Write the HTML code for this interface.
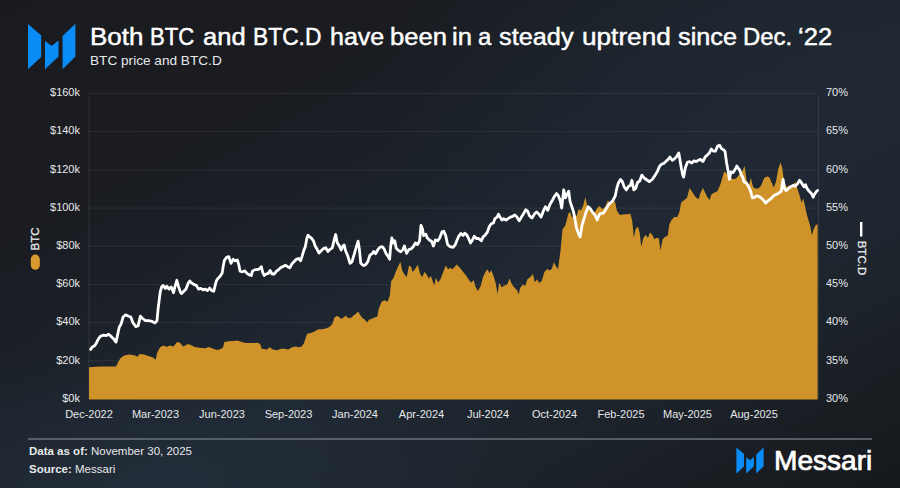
<!DOCTYPE html>
<html><head><meta charset="utf-8">
<style>
html,body{margin:0;padding:0;}
body{width:900px;height:488px;overflow:hidden;position:relative;
background:radial-gradient(ellipse 380px 260px at 760px 90px,rgba(32,42,53,0.55) 0%,rgba(32,42,53,0) 100%),radial-gradient(ellipse 360px 140px at 180px 488px,rgba(36,49,62,0.6) 0%,rgba(36,49,62,0) 100%),linear-gradient(to bottom right,#191b1f 0%,#1a1c21 25%,#1c222a 42%,#1f2833 57%,#1c2229 80%,#16181b 100%);
font-family:"Liberation Sans",sans-serif;color:#fff;}
svg{position:absolute;left:0;top:0;}
.t{position:absolute;white-space:nowrap;}
</style></head><body>
<svg width="900" height="488" viewBox="0 0 900 488">
<g fill="#0a8cf6"><polygon points="28,24 41.2,35.5 41.2,57 28,69.3"/>
<polygon points="45,41 51.7,46 58.5,40.5 58.5,56.5 45,69.3"/>
<polygon points="62.6,36 75.4,23.8 75.4,56.5 62.6,69.3"/></g>
<g stroke="rgba(255,255,255,0.075)" stroke-width="1" fill="none"><line x1="88" y1="360.8" x2="818" y2="360.8"/><line x1="88" y1="322.6" x2="818" y2="322.6"/><line x1="88" y1="284.4" x2="818" y2="284.4"/><line x1="88" y1="246.2" x2="818" y2="246.2"/><line x1="88" y1="208.1" x2="818" y2="208.1"/><line x1="88" y1="169.9" x2="818" y2="169.9"/><line x1="88" y1="131.7" x2="818" y2="131.7"/><line x1="88" y1="93.5" x2="818" y2="93.5"/></g>
<g stroke="rgba(255,255,255,0.09)" stroke-width="1"><line x1="89" y1="96" x2="89" y2="399"/><line x1="818.5" y1="96" x2="818.5" y2="399"/></g>
<path d="M89,399.6 L89.0,367.2 99.8,366.4 116.0,366.4 118.2,362.0 120.4,358.3 124.1,355.4 129.3,354.6 135.2,355.4 137.4,356.8 139.6,353.9 144.0,354.6 148.5,356.1 152.9,357.6 155.6,359.8 157.3,352.4 160.2,347.1 163.9,345.6 166.8,347.1 169.8,345.6 173.5,346.4 177.1,341.9 180.1,342.7 183.0,346.4 185.3,345.6 188.2,344.1 191.9,345.6 194.9,347.1 199.3,347.8 205.2,348.3 208.9,347.1 212.6,348.6 217.0,350.0 220.0,349.3 222.9,347.8 224.4,341.9 228.8,341.2 233.0,341.0 237.4,340.6 241.8,342.1 246.2,343.1 252.1,343.1 258.0,342.8 260.3,344.3 261.7,348.7 266.9,349.4 269.6,347.2 272.8,349.4 277.2,350.2 280.9,348.7 284.6,348.7 288.3,349.4 292.0,347.2 295.7,346.5 298.6,347.2 301.6,346.5 303.8,343.5 307.2,333.7 310.9,332.9 314.6,331.4 318.3,329.2 322.0,329.2 325.7,328.5 329.4,327.0 332.3,324.1 334.5,317.4 336.7,315.9 339.0,316.7 341.2,318.9 343.4,317.4 345.6,315.7 348.5,318.2 351.5,317.4 353.7,315.2 355.9,313.7 358.1,311.5 360.4,315.2 362.6,318.2 364.8,319.6 367.0,322.6 369.2,319.6 371.4,318.9 374.4,317.4 377.3,316.7 378.7,309.0 381.6,301.7 384.6,300.2 387.5,301.7 389.8,295.8 391.2,281.0 393.5,278.0 395.7,272.1 397.9,267.0 400.4,261.8 402.3,270.7 404.5,274.4 406.7,277.3 409.0,265.5 411.2,267.0 412.6,272.1 414.9,269.2 417.8,264.8 420.0,273.6 422.2,277.3 424.4,272.1 426.7,274.4 428.9,278.8 430.8,275.8 432.9,281.7 434.3,285.4 435.8,278.0 438.2,282.5 440.7,278.8 443.2,272.1 445.8,265.5 448.1,269.2 450.3,267.7 452.5,269.2 456.8,264.4 459.4,267.3 462.4,271.0 466.1,275.4 469.0,279.9 471.2,282.8 473.5,279.9 475.7,287.2 477.9,290.9 480.8,285.8 483.0,276.9 486.0,271.0 487.8,269.5 489.2,273.2 491.2,270.3 493.4,275.4 495.6,282.8 497.5,293.9 499.3,282.8 501.5,287.2 504.4,285.8 507.4,284.3 509.6,278.4 511.8,284.3 514.8,288.0 517.0,290.2 518.8,294.6 520.0,288.1 523.0,284.4 525.2,285.9 527.4,279.3 530.3,277.1 533.0,274.1 534.8,282.2 537.0,279.3 539.2,283.0 541.8,280.8 544.4,271.9 547.3,269.0 549.5,270.4 551.7,269.0 553.9,262.3 556.2,266.7 558.1,269.0 559.6,257.1 560.6,249.8 562.5,229.6 565.4,225.2 568.4,213.4 570.1,211.9 572.1,217.8 574.3,213.4 576.5,216.3 578.7,209.0 580.9,210.4 583.1,206.0 585.4,197.1 586.8,204.5 589.0,207.5 592.0,209.7 594.9,211.9 597.2,208.2 599.4,206.0 602.3,209.0 605.3,206.7 608.0,200.2 610.2,203.9 613.1,198.7 615.3,203.1 616.8,210.5 619.8,214.9 624.2,214.2 628.0,214.2 630.2,213.5 632.1,220.1 633.9,237.8 635.6,229.0 638.0,226.7 639.8,233.4 641.2,246.7 643.4,237.8 645.7,234.9 647.9,237.8 650.1,232.6 652.3,234.9 654.5,239.3 656.7,237.8 659.0,238.5 660.4,250.4 662.6,239.3 664.9,237.1 667.8,235.6 669.3,224.5 671.5,220.1 674.4,217.1 677.4,217.1 679.6,211.2 681.1,202.4 684.0,200.2 687.0,198.0 689.6,188.1 692.5,192.6 695.5,197.0 698.5,199.2 700.7,192.6 702.9,188.1 705.1,192.6 707.3,197.0 709.5,199.9 711.7,194.0 714.7,192.6 717.6,191.1 720.6,183.7 722.8,176.3 724.3,171.2 726.5,173.4 728.7,176.3 730.9,177.8 733.1,179.3 736.1,178.5 739.0,174.9 741.3,171.9 742.7,170.4 744.6,166.0 746.5,179.5 748.7,185.4 750.9,178.0 753.1,186.9 755.3,188.4 758.3,188.4 761.2,185.4 764.2,178.0 767.1,176.6 769.4,177.3 771.6,182.5 773.8,187.6 776.0,181.7 778.2,169.2 780.4,162.5 782.2,167.7 783.7,178.8 786.3,186.9 789.3,185.4 792.2,185.4 795.2,181.7 797.4,188.4 799.9,196.6 801.6,202.7 803.2,198.3 804.9,205.5 806.5,213.2 808.7,221.0 810.4,226.5 811.8,235.4 813.4,229.9 815.4,225.4 817.4,224.3 817.6,224.3 L817.6,399.6 Z" fill="#D09329"/>
<path d="M90.6,349.4 92.4,346.9 94.6,345.8 96.1,343.5 98.3,339.1 100.5,336.2 103.5,335.1 106.4,335.7 108.6,334.2 111.6,336.9 113.8,339.1 116.0,342.1 117.5,335.4 119.2,327.3 121.2,323.6 123.1,317.0 125.6,314.8 128.5,316.2 130.8,317.0 133.0,322.9 135.9,326.6 138.1,325.8 140.4,316.2 142.6,318.5 145.5,320.7 148.5,320.7 152.2,321.4 155.1,322.9 157.0,320.7 158.1,308.9 160.2,292.1 161.6,286.9 163.1,285.4 165.3,288.4 166.8,286.2 169.0,289.1 171.2,286.9 173.5,292.8 174.9,286.9 176.8,280.3 178.6,286.9 180.4,292.1 181.6,293.5 183.8,291.3 186.0,289.1 188.2,283.2 189.7,281.0 191.9,283.2 194.1,284.7 196.3,285.4 198.5,289.1 200.8,288.4 203.0,289.9 205.2,289.1 207.4,290.6 209.6,288.1 211.8,290.6 213.7,291.3 214.8,286.9 216.3,281.0 217.7,278.8 219.9,276.6 222.2,272.9 223.2,266.2 224.4,260.3 226.6,257.4 228.8,256.6 231.0,263.3 233.2,259.3 235.2,260.8 237.4,260.0 238.9,265.2 240.0,271.1 242.5,271.8 244.8,270.8 247.0,273.3 249.2,274.8 251.4,275.5 252.4,271.1 255.1,269.6 257.3,269.6 259.5,268.9 261.3,266.7 262.8,272.6 264.2,275.5 266.2,274.0 268.4,273.3 270.1,270.4 272.1,274.0 274.3,274.0 276.5,271.1 278.7,269.6 280.9,267.4 283.1,266.7 285.4,265.2 287.6,266.7 289.8,267.8 292.0,263.7 294.2,261.5 296.4,259.3 298.6,258.5 300.6,260.8 302.3,255.6 303.8,250.4 305.3,246.7 306.8,238.6 308.0,235.3 309.4,236.8 311.6,238.2 313.6,241.2 315.3,246.4 316.8,248.6 319.0,253.0 321.2,250.8 323.5,248.6 325.7,247.8 327.9,251.5 330.1,249.3 332.3,247.8 334.2,239.7 335.7,234.5 337.2,242.7 339.2,245.6 341.2,250.0 342.6,246.4 344.1,244.9 345.6,250.8 347.8,256.0 350.0,263.3 351.9,261.9 354.4,253.7 356.7,245.6 358.1,241.2 359.3,248.6 360.8,263.3 363.3,265.5 365.5,264.8 367.7,261.9 369.9,255.2 372.2,253.7 373.6,251.5 375.6,253.7 378.1,249.3 380.3,247.1 382.2,246.7 384.1,248.9 385.9,253.3 388.1,256.3 389.6,259.2 390.6,247.4 391.8,237.8 393.3,243.0 394.8,240.8 396.2,248.2 398.5,250.4 400.7,251.9 402.9,249.6 404.4,246.0 406.6,253.3 408.8,249.6 411.0,248.9 413.2,246.7 415.4,243.0 417.6,244.5 419.6,240.8 421.0,225.3 422.5,229.0 423.5,235.6 425.8,234.1 427.2,237.8 429.4,240.0 431.7,241.5 433.4,246.0 435.4,240.0 437.6,240.8 439.8,237.8 442.0,231.9 443.8,231.2 445.7,235.6 447.6,244.5 450.1,246.7 453.1,247.4 455.0,245.2 456.8,240.8 458.7,236.3 460.9,233.4 463.1,235.6 464.6,233.1 466.8,234.9 468.3,237.8 470.5,243.0 472.0,240.8 474.2,236.3 476.4,238.5 478.6,238.5 481.3,240.8 483.0,237.1 485.3,234.9 487.5,231.9 489.2,226.7 491.2,223.8 493.4,223.0 494.9,218.6 497.1,217.1 498.5,214.2 500.0,217.1 501.9,220.1 503.7,218.6 505.9,220.1 508.1,218.6 510.4,217.1 512.6,216.4 514.8,214.9 517.0,217.1 519.2,220.8 521.4,217.1 523.6,213.5 525.8,209.8 527.6,211.2 529.5,215.7 531.8,217.9 532.2,217.8 534.4,214.1 536.6,211.9 538.9,214.1 541.1,217.1 543.3,211.2 545.5,206.7 547.7,210.4 549.9,204.5 552.1,200.8 554.4,196.4 556.6,193.5 558.3,195.7 560.3,200.8 561.7,208.2 563.7,189.8 565.4,197.9 567.2,194.2 568.7,191.2 570.1,201.6 572.1,207.5 573.5,211.9 575.0,219.3 576.5,228.1 578.7,234.0 580.2,237.0 582.0,225.2 583.9,219.3 586.1,211.9 588.3,206.7 590.5,209.0 592.7,212.6 594.9,214.9 597.2,220.0 599.1,214.9 600.8,213.4 603.1,213.4 605.3,210.4 606.8,207.6 608.7,204.6 610.9,202.4 613.1,200.2 615.3,195.8 616.8,188.4 618.3,183.2 620.5,179.5 622.4,181.7 624.2,186.9 626.4,189.9 628.6,186.2 630.4,185.4 631.9,180.3 633.8,189.9 635.7,188.4 637.5,182.5 639.7,181.0 641.9,175.1 644.1,178.0 646.3,179.5 649.3,181.7 652.2,179.5 655.2,175.1 657.4,171.4 659.6,166.2 661.8,164.0 664.0,163.3 666.3,161.1 668.5,158.9 669.9,157.1 672.2,160.3 674.4,158.9 676.6,156.6 678.8,153.0 681.5,169.0 682.7,174.9 683.7,177.1 685.2,168.2 687.4,162.3 689.6,161.6 691.8,163.0 694.0,160.8 696.2,161.6 698.5,160.1 700.7,159.4 702.9,161.6 705.1,157.1 707.3,154.9 709.5,152.7 711.3,149.0 713.2,151.2 715.4,151.2 717.6,146.1 719.6,145.3 721.3,148.3 723.5,149.8 725.0,151.2 726.5,162.3 728.0,170.4 729.4,179.3 730.9,171.9 733.1,172.6 735.4,169.0 736.8,166.0 738.3,168.2 739.8,170.4 741.3,174.9 742.7,177.1 744.2,182.2 746.4,183.0 748.6,186.7 750.6,191.1 752.4,198.0 754.6,197.2 756.8,195.8 759.0,196.5 761.2,198.0 763.5,200.2 765.7,203.1 767.9,200.9 770.1,199.4 772.3,197.2 774.5,195.0 776.7,194.3 778.9,192.8 781.2,191.3 783.1,179.5 784.6,189.1 786.3,190.6 788.5,188.4 790.8,186.9 793.0,185.4 795.2,186.2 797.4,183.9 799.6,180.3 801.8,183.2 804.0,186.9 805.5,184.7 807.0,188.4 809.2,191.3 811.4,193.5 813.2,197.2 814.4,194.3 816.6,191.3 817.5,190.5" fill="none" stroke="#ffffff" stroke-width="2.8" stroke-linejoin="round" stroke-linecap="round"/>
<g fill="#e6e8ea" font-family="Liberation Sans, sans-serif" font-size="11"><text x="80" y="401.7" text-anchor="end">$0k</text><text x="80" y="363.5" text-anchor="end">$20k</text><text x="80" y="325.3" text-anchor="end">$40k</text><text x="80" y="287.1" text-anchor="end">$60k</text><text x="80" y="248.9" text-anchor="end">$80k</text><text x="80" y="210.8" text-anchor="end">$100k</text><text x="80" y="172.6" text-anchor="end">$120k</text><text x="80" y="134.4" text-anchor="end">$140k</text><text x="80" y="96.2" text-anchor="end">$160k</text><text x="826" y="401.7">30%</text><text x="826" y="363.5">35%</text><text x="826" y="325.3">40%</text><text x="826" y="287.1">45%</text><text x="826" y="248.9">50%</text><text x="826" y="210.8">55%</text><text x="826" y="172.6">60%</text><text x="826" y="134.4">65%</text><text x="826" y="96.2">70%</text><text x="89.0" y="417.8" text-anchor="middle">Dec-2022</text><text x="155.5" y="417.8" text-anchor="middle">Mar-2023</text><text x="222.0" y="417.8" text-anchor="middle">Jun-2023</text><text x="288.5" y="417.8" text-anchor="middle">Sep-2023</text><text x="355.0" y="417.8" text-anchor="middle">Jan-2024</text><text x="421.5" y="417.8" text-anchor="middle">Apr-2024</text><text x="488.0" y="417.8" text-anchor="middle">Jul-2024</text><text x="554.5" y="417.8" text-anchor="middle">Oct-2024</text><text x="621.0" y="417.8" text-anchor="middle">Feb-2025</text><text x="687.5" y="417.8" text-anchor="middle">May-2025</text><text x="754.0" y="417.8" text-anchor="middle">Aug-2025</text></g>
<g fill="#eceef0" stroke="#eceef0" stroke-width="0.25" font-family="Liberation Sans, sans-serif" font-size="11.5">
<text transform="translate(39.4,250.4) rotate(-90)">BTC</text>
<text transform="translate(857.8,240.7) rotate(90)">BTC.D</text>
</g>
<rect x="30.8" y="254.6" width="9" height="15.2" rx="4.5" fill="#D99B2E"/>
<rect x="860" y="222" width="2.4" height="14.5" fill="#fff"/>
<line x1="28" y1="439" x2="872" y2="439" stroke="#6a727d" stroke-width="1.6"/>
<g fill="#0a8cf6" transform="translate(736.4,447.4) scale(0.574)">
<polygon points="0,0 13.2,11.7 13.2,33.2 0,45.5"/>
<polygon points="17,17.2 23.7,22.2 30.5,16.7 30.5,32.7 17,45.5"/>
<polygon points="34.6,12.2 47.4,0 47.4,32.7 34.6,45.5"/>
</g>
</svg>
<div class="t" style="left:90.07px;top:23.7px;font-size:23px;-webkit-text-stroke:0.45px #fff;transform:scaleX(1.1289);transform-origin:0 0;">Both</div><div class="t" style="left:150.14px;top:23.7px;font-size:23px;-webkit-text-stroke:0.45px #fff;transform:scaleX(0.9622);transform-origin:0 0;">BTC</div><div class="t" style="left:203.29px;top:23.7px;font-size:23px;-webkit-text-stroke:0.45px #fff;transform:scaleX(1.1111);transform-origin:0 0;">and</div><div class="t" style="left:253.41px;top:23.7px;font-size:23px;-webkit-text-stroke:0.45px #fff;transform:scaleX(0.9912);transform-origin:0 0;">BTC.D</div><div class="t" style="left:330.01px;top:23.7px;font-size:23px;-webkit-text-stroke:0.45px #fff;transform:scaleX(1.0875);transform-origin:0 0;">have</div><div class="t" style="left:389.99px;top:23.7px;font-size:23px;-webkit-text-stroke:0.45px #fff;transform:scaleX(1.1122);transform-origin:0 0;">been</div><div class="t" style="left:452.19px;top:23.7px;font-size:23px;-webkit-text-stroke:0.45px #fff;transform:scaleX(1.1125);transform-origin:0 0;">in</div><div class="t" style="left:478.36px;top:23.7px;font-size:23px;-webkit-text-stroke:0.45px #fff;transform:scaleX(1.0417);transform-origin:0 0;">a</div><div class="t" style="left:499.40px;top:23.7px;font-size:23px;-webkit-text-stroke:0.45px #fff;transform:scaleX(1.1000);transform-origin:0 0;">steady</div><div class="t" style="left:582.16px;top:23.7px;font-size:23px;-webkit-text-stroke:0.45px #fff;transform:scaleX(1.1382);transform-origin:0 0;">uptrend</div><div class="t" style="left:677.80px;top:23.7px;font-size:23px;-webkit-text-stroke:0.45px #fff;transform:scaleX(1.0981);transform-origin:0 0;">since</div><div class="t" style="left:743.36px;top:23.7px;font-size:23px;-webkit-text-stroke:0.45px #fff;transform:scaleX(1.0378);transform-origin:0 0;">Dec.</div><div class="t" style="left:797.79px;top:23.7px;font-size:23px;-webkit-text-stroke:0.45px #fff;transform:scaleX(1.1103);transform-origin:0 0;">‘22</div>
<div class="t" style="left:90px;top:53.2px;font-size:13px;color:#e6e8ea;transform:scaleX(1.048);transform-origin:0 0;">BTC price and BTC.D</div>
<div class="t" style="left:29px;top:444.8px;font-size:11.5px;color:#e6e8ea;"><b>Data as of:</b> November 30, 2025</div>
<div class="t" style="left:29px;top:462.6px;font-size:11.5px;color:#e6e8ea;"><b>Source:</b> Messari</div>
<div class="t" style="left:774px;top:446px;font-size:27px;-webkit-text-stroke:0.7px #fff;transform:scaleX(1.04);transform-origin:0 0;">Messari</div>
</body></html>
